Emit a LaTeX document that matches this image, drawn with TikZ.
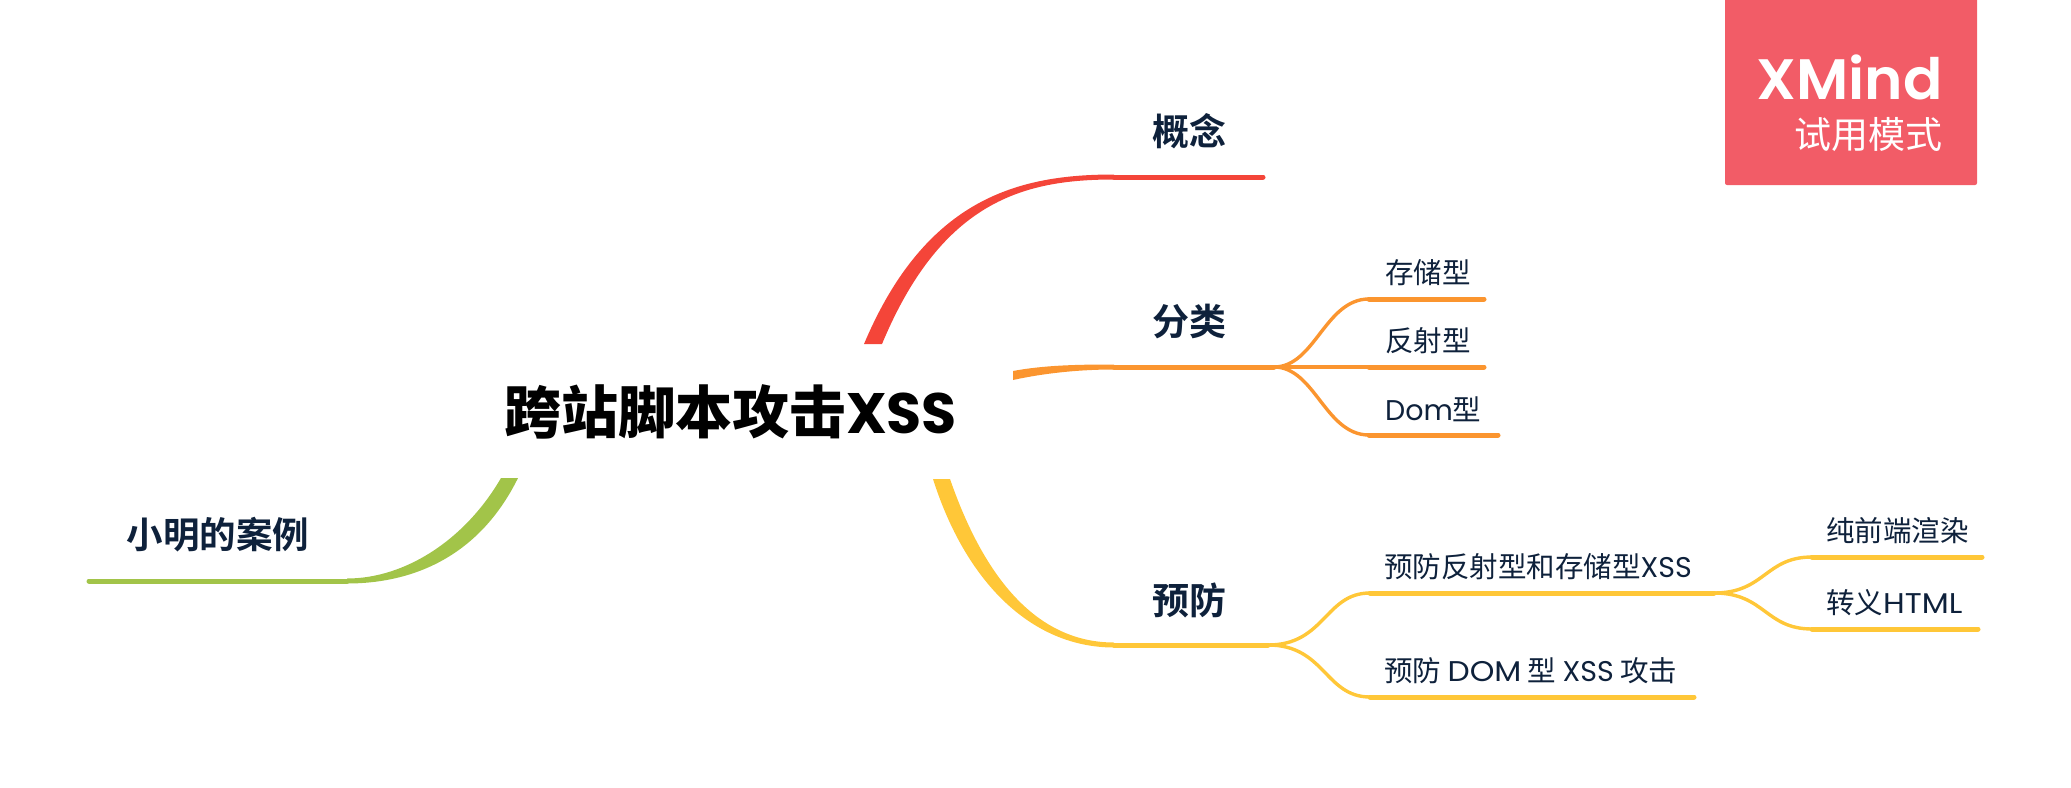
\documentclass[tikz,border=0pt]{standalone}
\usepackage{fontspec}
\setmainfont{Noto Sans CJK SC}
\newfontfamily\cjkbold{Noto Sans CJK SC Bold}
\newfontfamily\cjkblack{Noto Sans CJK SC Black}
\newfontfamily\lat{Poppins}
\newfontfamily\latw{Poppins}[FakeStretch=1.1]
\newfontfamily\latmed{Poppins SemiBold}[FakeStretch=1.02]
\newfontfamily\latbold{Poppins}[BoldFont=Poppins Bold]
\definecolor{cred}{HTML}{F44539}
\definecolor{corange}{HTML}{FB952F}
\definecolor{cyellow}{HTML}{FFC738}
\definecolor{cgreen}{HTML}{A2C449}
\definecolor{cpink}{HTML}{F25C67}
\definecolor{cnavy}{HTML}{0E213B}
\tikzset{
  x=1pt,y=-1pt,
  lbl/.style={inner sep=0pt,anchor=west,text=cnavy,font=\fontsize{28.5}{31}\selectfont},
  maintopic/.style={inner sep=0pt,anchor=west,text=cnavy,font=\cjkbold\fontsize{37}{40}\selectfont},
  rootnode/.style={inner sep=0pt,minimum width=565pt,minimum height=135pt,text=black,font=\cjkblack\fontsize{57}{60}\selectfont},
  uline/.style={line width=5pt,line cap=round},
  branch/.style={line width=3.4pt},
}
\begin{document}
\begin{tikzpicture}
\useasboundingbox (0,0) rectangle (2071,787);
% watermark
\fill[cpink,rounded corners=2pt] (1725,-4) rectangle (1977,185);
\node[inner sep=0pt,anchor=east,text=white,font=\latmed\fontsize{57}{60}\selectfont] (wm) at (1943,77) {XMind};
\node[inner sep=0pt,anchor=east,text=white,font=\fontsize{37}{40}\selectfont] (wmt) at (1943,135) {试用模式};
% root
\node[rootnode] (root) at (730.5,411.5) {跨站脚本攻击{\latbold\bfseries XSS}};
% labels
\node[maintopic] (gn) at (1152.5,131) {概念};
\node[maintopic] (fl) at (1152.5,321.5) {分类};
\node[maintopic] (yf) at (1152,600) {预防};
\node[maintopic,font=\cjkbold\fontsize{36.5}{40}\selectfont] (xm) at (126.5,535) {小明的案例};
\node[lbl] (cc) at (1385,272.5) {存储型};
\node[lbl] (fs) at (1385,340.5) {反射型};
\node[lbl] (dm) at (1385,409) {{\lat Dom}型};
\node[lbl] (fa) at (1384,567) {预防反射型和存储型{\lat XSS}};
\node[lbl] (fb) at (1384,670.5) {预防 {\latw DOM} 型 {\lat XSS} 攻击};
\node[lbl] (cq) at (1826,530.5) {纯前端渲染};
\node[lbl] (zy) at (1826,602.5) {转义{\latw HTML}};
% junctions
\coordinate (redS) at (1114,177);   \coordinate (redE) at (1263,177);
\coordinate (orgS) at (1114,367);   \coordinate (orgJ) at (1274,367);
\coordinate (yelS) at (1114,645);   \coordinate (yelJ) at (1268,645);
\coordinate (grnS) at (347,581);    \coordinate (grnE) at (89,581);
\coordinate (ccS) at (1369,299);    \coordinate (ccE) at (1484,299);
\coordinate (fsS) at (1369,367);    \coordinate (fsE) at (1484,367);
\coordinate (dmS) at (1369,435);    \coordinate (dmE) at (1498,435);
\coordinate (faS) at (1370,593);    \coordinate (faJ) at (1714,593);
\coordinate (fbS) at (1370,697);    \coordinate (fbE) at (1694,697);
\coordinate (cqS) at (1812,557);    \coordinate (cqE) at (1982,557);
\coordinate (zyS) at (1812,629);    \coordinate (zyE) at (1978,629);
% tapered root connectors
\fill[cred] (864,344) .. controls (926,197) and (1020,174.5) .. ([yshift=2.5pt]redS) -- ([yshift=-2.5pt]redS) .. controls (1025,179.5) and (942,200) .. (882,344) -- cycle;
\fill[corange] (1013,371) .. controls (1045,365) and (1080,364.5) .. ([yshift=2.5pt]orgS) -- ([yshift=-2.5pt]orgS) .. controls (1080,369.5) and (1045,373) .. (1013,380) -- cycle;
\fill[cyellow] (933,479) .. controls (965,580) and (1030,647.5) .. ([yshift=-2.5pt]yelS) -- ([yshift=2.5pt]yelS) .. controls (1038,642.5) and (985,580) .. (950,479) -- cycle;
\fill[cgreen] (501,478) .. controls (465,540) and (405,578.5) .. ([yshift=2.5pt]grnS) -- ([yshift=-2.5pt]grnS) .. controls (415,583.5) and (480,555) .. (518,478) -- cycle;
% underlines
\draw[uline,cred] (redS) -- (redE);
\draw[uline,corange] (orgS) -- (orgJ);
\draw[uline,cyellow] (yelS) -- (yelJ);
\draw[uline,cgreen] (grnS) -- (grnE);
\draw[uline,corange] (ccS) -- (ccE);
\draw[uline,corange] (fsS) -- (fsE);
\draw[uline,corange] (dmS) -- (dmE);
\draw[uline,cyellow] (faS) -- (faJ);
\draw[uline,cyellow] (fbS) -- (fbE);
\draw[uline,cyellow] (cqS) -- (cqE);
\draw[uline,cyellow] (zyS) -- (zyE);
% branches
\draw[branch,corange] (orgJ) .. controls (1315,367) and (1325,299) .. (ccS);
\draw[branch,corange] (orgJ) -- (fsS);
\draw[branch,corange] (orgJ) .. controls (1315,367) and (1325,435) .. (dmS);
\draw[branch,cyellow] (yelJ) .. controls (1325,645) and (1325,593) .. (faS);
\draw[branch,cyellow] (yelJ) .. controls (1325,645) and (1325,697) .. (fbS);
\draw[branch,cyellow] (faJ) .. controls (1765,593) and (1765,557) .. (cqS);
\draw[branch,cyellow] (faJ) .. controls (1765,593) and (1765,629) .. (zyS);
\end{tikzpicture}
\end{document}
